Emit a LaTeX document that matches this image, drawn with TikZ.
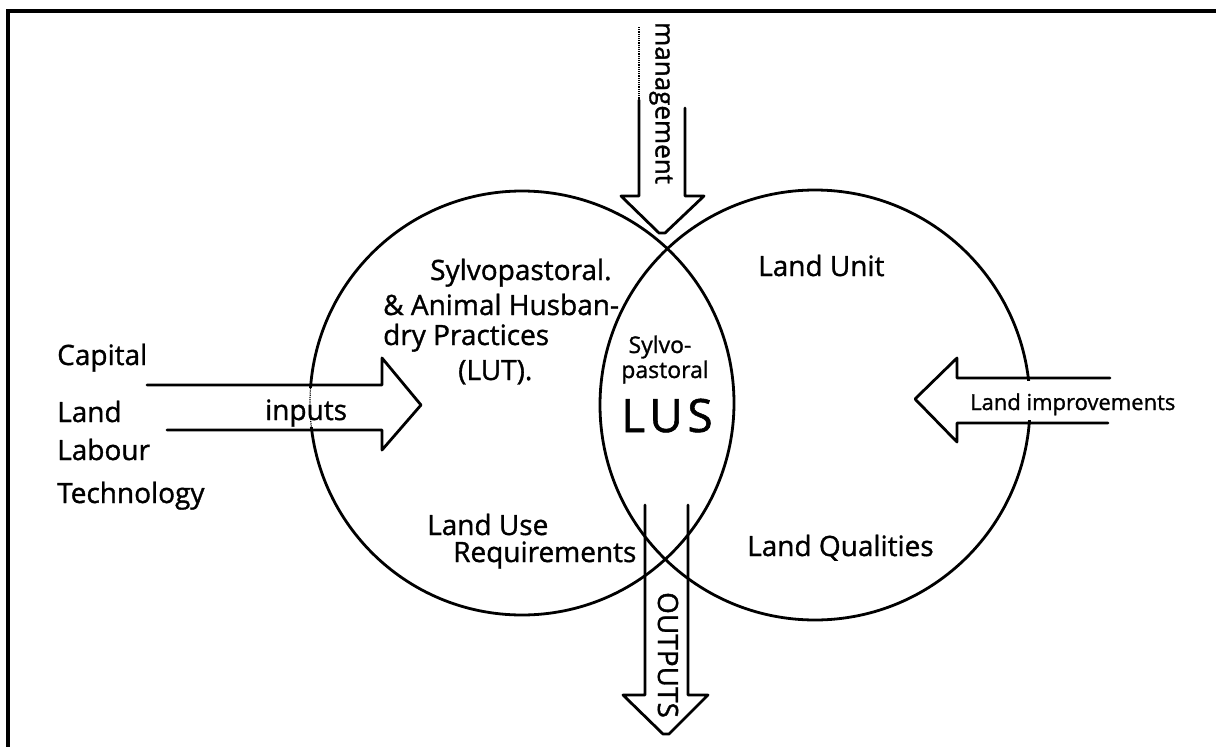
\documentclass[tikz,border=0pt]{standalone}
\usepackage{fontspec}
\setmainfont{Open Sans}
\newfontfamily\handfont{Open Sans}[FakeBold=1.2]
\begin{document}
\begin{tikzpicture}[x=1pt,y=-1pt,
  hand/.style={font=\handfont\fontsize{28}{32}\selectfont, inner sep=0pt},
  small/.style={font=\handfont\fontsize{23}{27}\selectfont, inner sep=0pt},
  big/.style={font=\handfont\fontsize{46}{50}\selectfont\addfontfeature{LetterSpace=10}, inner sep=0pt},
  ring/.style={draw, circle, line width=2.8pt, inner sep=0pt},
  arrowline/.style={line width=2.8pt, line join=round, line cap=round},
  faint/.style={line width=1.2pt, densely dotted}]
\useasboundingbox (0,0) rectangle (1216,747);
% frame
\draw[line width=3.8pt] (8,747) -- (8,11) -- (1216,11);
% circles
\node[ring, minimum size=424pt] (lc) at (522,403) {};
\node[ring, minimum size=430pt] (rc) at (815,405) {};
% clear shafts crossed by circles
\fill[white] (295,388) rectangle (335,427);
\fill[white] (1000,381) rectangle (1045,420);
\begin{scope}
  \clip (295,388) rectangle (335,427);
  \draw[faint] (lc.center) circle[radius=212pt];
\end{scope}
% inputs arrow
\coordinate (inT) at (147,385);
\coordinate (inB) at (167,430);
\coordinate (inTip) at (421,405);
\draw[arrowline] (inT) -- (382,385) -- (382,358) -- (inTip) -- (382,450) -- (382,430) -- (inB);
% land improvements arrow
\coordinate (liT) at (1110,378);
\coordinate (liB) at (1108,423);
\coordinate (liTip) at (915,399);
\draw[arrowline] (liT) -- (957,378) -- (957,358) -- (liTip) -- (957,442) -- (957,423) -- (liB);
% management arrow
\coordinate (mgL) at (639,27);
\coordinate (mgM) at (639,100);
\coordinate (mgR) at (685,108);
\draw[faint] (mgL) -- (mgM);
\draw[arrowline] (mgM) -- (639,196) -- (621,196) -- (659,233) -- (665,233) -- (704,196) -- (685,196) -- (mgR);
% outputs arrow
\coordinate (opL) at (645,505);
\coordinate (opR) at (688,505);
\draw[arrowline] (opL) -- (645,695) -- (623,695) -- (663,734) -- (669,734) -- (708,695) -- (688,695) -- (opR);
% texts
\node[hand, anchor=base west] (t1) at (57,365) {Capital};
\node[hand, anchor=base west] (t2) at (57,422) {Land};
\node[hand, anchor=base west] (t3) at (57,460) {Labour};
\node[hand, anchor=base west] (t4) at (57,503) {Technology};
\node[hand, anchor=base west] (in) at (265,420) {inputs};
\node[hand, anchor=base west] (s1) at (430,280) {Sylvopastoral.};
\node[hand, anchor=base west] (s2) at (383,315) {\& Animal Husban-};
\node[hand, anchor=base west] (s3) at (383,345) {dry Practices};
\node[hand, anchor=base west] (s4) at (458,380) {(LUT).};
\node[small, anchor=base] (l1) at (660,353) {Sylvo-};
\node[small, anchor=base] (l2) at (665,378) {pastoral};
\node[big, anchor=base] (lus) at (667,432) {LUS};
\node[hand, anchor=base west] (lu) at (758,276) {Land Unit};
\node[hand, anchor=base west] (lq) at (747,556) {Land Qualities};
\node[hand, anchor=base west] (r1) at (427,535) {Land Use};
\node[hand, anchor=base west] (r2) at (453,562) {Requirements};
\node[font=\handfont\fontsize{22}{26}\selectfont, inner sep=0pt, anchor=base west] (lim) at (970,410) {Land improvements};
\node[font=\handfont\fontsize{26}{30}\selectfont, inner sep=0pt, rotate=-90] (mg) at (661,103) {management};
\node[hand, rotate=-90] (op) at (668,655) {OUTPUTS};
\end{tikzpicture}
\end{document}
